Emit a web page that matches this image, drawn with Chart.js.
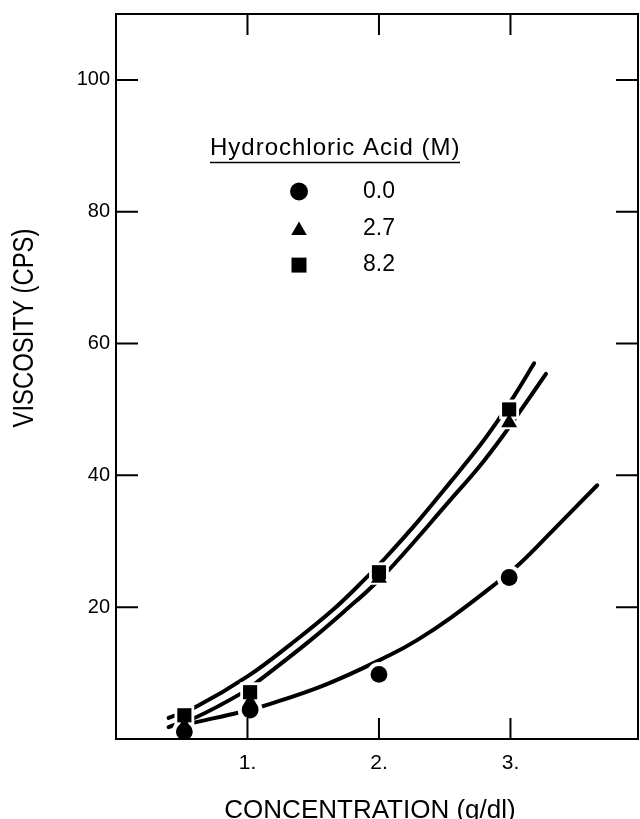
<!DOCTYPE html>
<html>
<head>
<meta charset="utf-8">
<title>Viscosity vs concentration</title>
<script src="https://cdn.jsdelivr.net/npm/chart.js@4.4.1/dist/chart.umd.min.js"></script>
<style>
  html, body { margin: 0; padding: 0; background: #fff; overflow: hidden; }
  #wrap { position: relative; width: 640px; height: 819px; overflow: hidden; }
  #Chart { display: block; }
</style>
</head>
<body>
<div id="wrap"><canvas id="Chart"></canvas></div>
<script>
// measured points: concentration (g/dl) vs viscosity (cps)
const conc = [0.52, 1.02, 2.0, 2.99];
const visc00 = [1.1, 4.4, 9.8, 24.5];
const visc27 = [2.0, 5.6, 24.4, 48.0];
const visc82 = [3.6, 7.1, 25.3, 50.0];

// smooth curves drawn through each set
const fitX00 = [0.52, 0.62, 0.95, 1.12, 1.60, 2.08, 2.29, 2.54, 2.89, 3.07, 3.31, 3.66];
const fit00 = [2.15, 2.6, 4.1, 5.0, 8.3, 12.7, 15.0, 18.3, 23.6, 26.6, 31.4, 38.5];
const fitX27 = [0.40, 0.61, 0.96, 1.07, 1.48, 1.83, 1.92, 2.11, 2.54, 2.77, 2.95, 3.09, 3.27];
const fit27 = [1.8, 3.3, 7.0, 8.6, 15.0, 21.0, 22.6, 26.4, 36.2, 41.5, 46.2, 50.2, 55.4];
const fitX82 = [0.40, 0.62, 1.00, 1.33, 1.65, 1.90, 2.05, 2.30, 2.54, 2.77, 2.90, 3.03, 3.18];
const fit82 = [3.2, 5.0, 9.5, 14.4, 19.6, 24.4, 27.5, 33.1, 38.9, 44.6, 48.2, 52.1, 57.0];

const acidLabels = ['0.0', '2.7', '8.2'];
const legendTitle = 'Hydrochloric Acid (M)';
const xTicks = [1, 2, 3];
const yTicks = [20, 40, 60, 80, 100];
const xTitle = 'CONCENTRATION (g/dl)';
const yTitle = 'VISCOSITY (CPS)';

const FONT = '"Liberation Sans", Arial, Helvetica, sans-serif';
const styles = ['circle', 'triangle', 'rect'];
const radii = [8.4, 9.2, 10];

function pts(xs, ys) {
    return xs.map((x, i) => ({x: x, y: ys[i]}));
}

const sets = [
    {pts: visc00, fitX: fitX00, fit: fit00},
    {pts: visc27, fitX: fitX27, fit: fit27},
    {pts: visc82, fitX: fitX82, fit: fit82}
];

let datasets = [];
sets.forEach((s, i) => {
    // black marker on top
    datasets.push({
        label: acidLabels[i],
        data: pts(conc, s.pts),
        pointStyle: styles[i],
        pointRadius: radii[i],
        backgroundColor: '#000',
        borderWidth: 0,
        showLine: false,
        order: 0
    });
    // white halo so the curve breaks around the marker
    datasets.push({
        label: '',
        data: pts(conc, s.pts),
        pointStyle: styles[i],
        pointRadius: radii[i] + 4,
        backgroundColor: '#fff',
        borderWidth: 0,
        showLine: false,
        order: 1
    });
    datasets.push({
        label: '',
        data: pts(s.fitX, s.fit),
        showLine: true,
        pointRadius: 0,
        borderColor: '#000',
        borderWidth: 4,
        borderCapStyle: 'round',
        tension: 0.4,
        order: 2
    });
});

function drawMarker(ctx, style, r, x, y) {
    ctx.fillStyle = '#000';
    if (Chart.helpers && Chart.helpers.drawPoint) {
        Chart.helpers.drawPoint(ctx, {pointStyle: style, radius: r, rotation: 0, borderWidth: 0}, x, y);
        return;
    }
    ctx.beginPath();
    if (style === 'circle') ctx.arc(x, y, r, 0, Math.PI * 2);
    else if (style === 'rect') { const h = r * Math.SQRT1_2; ctx.rect(x - h, y - h, 2 * h, 2 * h); }
    else { ctx.moveTo(x, y - r); ctx.lineTo(x + r * 0.866, y + r / 2); ctx.lineTo(x - r * 0.866, y + r / 2); ctx.closePath(); }
    ctx.fill();
}

// frame, inward ticks, axis titles and the legend box
const framePlugin = {
    id: 'frame',
    afterDraw(chart) {
        const ctx = chart.ctx;
        const a = chart.chartArea;
        const x = chart.scales.x, y = chart.scales.y;
        ctx.save();
        ctx.strokeStyle = '#000';
        ctx.lineWidth = 2;
        ctx.strokeRect(a.left, a.top, a.right - a.left, a.bottom - a.top);
        ctx.beginPath();
        xTicks.forEach(v => {
            const px = x.getPixelForValue(v);
            ctx.moveTo(px, a.bottom); ctx.lineTo(px, a.bottom - 21);
            ctx.moveTo(px, a.top); ctx.lineTo(px, a.top + 21);
        });
        yTicks.forEach(v => {
            const py = y.getPixelForValue(v);
            ctx.moveTo(a.left, py); ctx.lineTo(a.left + 22, py);
            ctx.moveTo(a.right, py); ctx.lineTo(a.right - 22, py);
        });
        ctx.stroke();

        ctx.fillStyle = '#000';
        // x title
        ctx.font = '26px ' + FONT;
        ctx.textAlign = 'center';
        ctx.textBaseline = 'alphabetic';
        ctx.fillText(xTitle, 370, 818);

        // y title, narrow lettering
        ctx.save();
        ctx.translate(24, 328);
        ctx.rotate(-Math.PI / 2);
        ctx.font = '29px ' + FONT;
        const w = ctx.measureText(yTitle).width;
        ctx.scale(199 / w, 1);
        ctx.textBaseline = 'middle';
        ctx.fillText(yTitle, 0, 1);
        ctx.restore();

        // legend
        ctx.font = '24px ' + FONT;
        ctx.textAlign = 'left';
        ctx.textBaseline = 'alphabetic';
        if ('letterSpacing' in ctx) ctx.letterSpacing = '1px';
        ctx.fillText(legendTitle, 210, 155);
        if ('letterSpacing' in ctx) ctx.letterSpacing = '0px';
        ctx.lineWidth = 1.5;
        ctx.beginPath();
        ctx.moveTo(210, 162.5); ctx.lineTo(460, 162.5);
        ctx.stroke();

        ctx.font = '23px ' + FONT;
        ctx.textBaseline = 'middle';
        const legendR = [9, 9, 10.6];
        chart.data.datasets.filter(d => d.order === 0).forEach((d, i) => {
            const rowY = 191.5 + i * 36.8;
            const dy = d.pointStyle === 'triangle' ? 2.3 : 0;
            drawMarker(ctx, d.pointStyle, legendR[i], 299, rowY + dy);
            ctx.fillStyle = '#000';
            ctx.fillText(d.label, 363, rowY);
        });
        ctx.restore();
    }
};

// fixed box sizes so the plot frame lands where it should
function fixBox(size) {
    return s => {
        if (s.isHorizontal()) s.height = size; else s.width = size;
        s.paddingTop = 0; s.paddingBottom = 0;
        s.paddingLeft = 0; s.paddingRight = 0;
    };
}

const ctx = document.getElementById('Chart').getContext('2d');
const myChart = new Chart(ctx, {
    type: 'scatter',
    data: {datasets: datasets},
    options: {
        responsive: true,
        maintainAspectRatio: false,
        animation: false,
        events: [],
        layout: {autoPadding: false, padding: {top: 14, right: 2, left: 0, bottom: 0}},
        plugins: {legend: {display: false}, tooltip: {enabled: false}},
        scales: {
            x: {
                type: 'linear',
                min: 0,
                max: 3.97,
                afterBuildTicks: s => { s.ticks = xTicks.map(v => ({value: v})); },
                afterFit: fixBox(80),
                grid: {display: false, drawTicks: false},
                border: {display: false},
                ticks: {
                    callback: v => v + '.',
                    color: '#000',
                    font: {family: FONT, size: 21},
                    padding: 12,
                    maxRotation: 0,
                    autoSkip: false
                }
            },
            y: {
                type: 'linear',
                min: 0,
                max: 110,
                afterBuildTicks: s => { s.ticks = yTicks.map(v => ({value: v})); },
                afterFit: fixBox(116),
                grid: {display: false, drawTicks: false},
                border: {display: false},
                ticks: {
                    callback: v => String(v),
                    color: '#000',
                    font: {family: FONT, size: 20},
                    padding: 6,
                    autoSkip: false
                }
            }
        }
    },
    plugins: [framePlugin]
});
</script>
</body>
</html>
